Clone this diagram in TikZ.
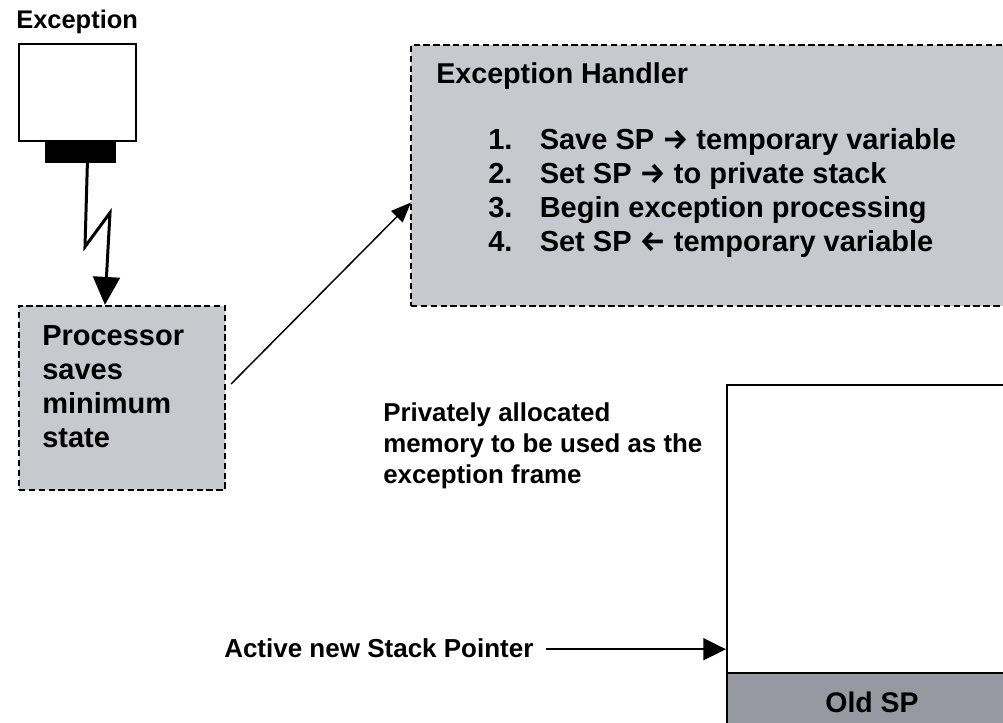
\documentclass[tikz,border=0pt]{standalone}
\usepackage{fontspec}
\setmainfont{Liberation Sans}
\newfontfamily\arrowfont{Fira Sans}
\newcommand{\rarr}{{\arrowfont\bfseries →}}
\newcommand{\larr}{{\arrowfont\bfseries ←}}
\usetikzlibrary{arrows.meta,calc,fit}
\definecolor{boxgray}{RGB}{200,200,207}
\definecolor{oldgray}{RGB}{152,152,162}
\begin{document}
\begin{tikzpicture}[x=0.75pt,y=-0.75pt,
  dashbox/.style={draw, line width=1.6pt, dash pattern=on 4.8pt off 2.6pt, fill=boxgray, inner sep=0pt},
  solidbox/.style={draw, line width=1.5pt, inner sep=0pt},
  lbl/.style={inner sep=0pt, anchor=base west, align=left},
  thinarrow/.style={line width=1.1pt},
]
\useasboundingbox (0,0) rectangle (1003,722);
\clip (0,0) rectangle (1003,722);
\fill[white] (0,0) rectangle (1003,722);

% exception source
\node[lbl, font=\fontsize{19.1}{22}\selectfont\bfseries] (exclbl) at (16,28) {Exception};
\node[solidbox, fit={(19,44)(136,141)}] (exc) {};
\node[inner sep=0pt, fill=black, fit={(45,141)(116,163)}] (plug) {};

% processor box (multi-line node: base = last line)
\node[dashbox, fit={(19,306)(225,490)}] (proc) {};
\node[lbl, font=\fontsize{21.75}{25.5}\selectfont\bfseries] (proctxt) at (42,447)
  {Processor\\saves\\minimum\\state};

% handler box
\node[dashbox, fit={(411,45)(1025,306)}] (handler) {};
\node[lbl, font=\fontsize{21.5}{25.5}\selectfont\bfseries] (htitle) at (436,83) {Exception Handler};
\node[lbl, font=\fontsize{21.75}{25.5}\selectfont\bfseries] (hlist) at (488,149)
  {\begin{tabular}[t]{@{}l@{\hspace{20.5pt}}l@{}}
   1. & Save SP \rarr\ temporary variable\\
   2. & Set SP \rarr\ to private stack\\
   3. & Begin exception processing\\
   4. & Set SP \larr\ temporary variable
   \end{tabular}};

% stack
\node[solidbox, fill=white, fit={(727,385)(1025,673)}] (stack) {};
\node[solidbox, fill=oldgray, fit={(727,673)(1025,740)}] (oldsp) {};
\node[inner sep=0pt, anchor=base, font=\fontsize{21.3}{25}\selectfont\bfseries] (oldtxt) at (872,712) {Old SP};

\node[lbl, font=\fontsize{19.4}{22.9}\selectfont\bfseries] (priv) at (383,483)
  {Privately allocated\\memory to be used as the\\exception frame};
\node[lbl, font=\fontsize{19.5}{23}\selectfont\bfseries] (act) at (224,657) {Active new Stack Pointer};

% connectors
\draw[line width=2.25pt, miter limit=10, -{Triangle[width=20pt,length=21pt]}]
  ($(plug.north)+(7.5,1)$) -- ($(plug.north)+(4.5,106)$) -- ($(plug.north)+(29.5,72)$)
  -- ($(proc.north west)+(87,0)$);
\draw[thinarrow, -{Triangle[width=12pt,length=15pt]}]
  ($(proc.east)+(5,-14)$) -- ($(handler.west)+(1,27)$);
\draw[thinarrow, -{Triangle[width=16.5pt,length=17pt]}]
  ($(act.east)+(12,1.5)$) -- ($(stack.west |- act.east)+(0,1.5)$);
\end{tikzpicture}
\end{document}
